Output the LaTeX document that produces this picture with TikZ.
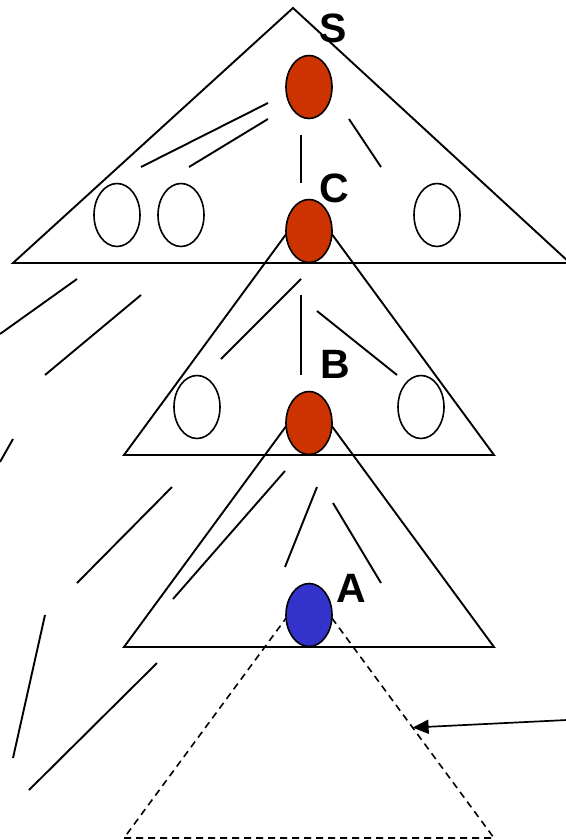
\documentclass[tikz,border=0pt]{standalone}
\usepackage{fontspec}
\setsansfont{Liberation Sans}
\usetikzlibrary{
  arrows.meta,
  calc,
  shapes.geometric
}
\definecolor{treeInk}{HTML}{000000}
\definecolor{treeRed}{HTML}{CC3300}
\definecolor{treeBlue}{HTML}{3333CC}
\tikzset{
  every node/.style={text=treeInk},
  frame/.style={
    draw=treeInk,
    line width=1.9pt,
    line join=miter
  },
  hidden/.style={
    frame,
    line width=1.6pt,
    dash pattern=on 7pt off 5pt
  },
  stroke/.style={
    draw=treeInk,
    line width=1.9pt
  },
  vertex/.style={
    ellipse,
    draw=treeInk,
    line width=1.6pt,
    fill=white,
    minimum width=46pt,
    minimum height=63pt,
    inner sep=0pt
  },
  tag/.style={
    font=\sffamily\bfseries\fontsize{41}{41}\selectfont,
    inner sep=0pt
  },
  pointer/.style={
    -{Triangle[length=16pt,width=14pt]},
    line width=1.7pt,
    draw=treeInk
  }
}

\begin{document}
\begin{tikzpicture}[x=1pt,y=-1pt]
  \useasboundingbox (0,0) rectangle (565,840);

  % triangle corners
  \coordinate (sTop) at (293,8);
  \coordinate (sLeft) at (13,263);
  \coordinate (sRight) at (570,263);
  \coordinate (cTop) at (309,203);
  \coordinate (cLeft) at (124,455);
  \coordinate (cRight) at (494,455);
  \coordinate (bTop) at (309,395);
  \coordinate (bLeft) at (124,647);
  \coordinate (bRight) at (494,647);
  \coordinate (aTop) at (309,587);
  \coordinate (aLeft) at (124,838);
  \coordinate (aRight) at (494,838);

  \draw[frame] (sTop) -- (sLeft) -- (sRight) -- cycle;
  \draw[frame] (cTop) -- (cLeft) -- (cRight) -- cycle;
  \draw[frame] (bTop) -- (bLeft) -- (bRight) -- cycle;
  \draw[hidden] (aTop) -- (aLeft) -- (aRight) -- cycle;

  % loose branches
  \foreach \ax/\ay/\bx/\by in {
    268/103/141/167, 268/119/189/167, 301/135/301/183, 349/119/381/167,
    77/279/0/334, 141/295/45/375, 13/439/0/462,
    301/279/221/359, 301/295/301/375, 317/311/397/375,
    172/487/77/583, 285/471/173/599, 317/487/285/567, 333/503/381/583,
    45/615/13/758, 157/663/29/790
  }{
    \draw[stroke] (\ax,\ay) -- (\bx,\by);
  }

  \node[vertex, fill=treeRed] (s) at (309,87) {};
  \node[vertex] (s1) at (117,215) {};
  \node[vertex] (s2) at (181,215) {};
  \node[vertex] (s3) at (437,215) {};
  \node[vertex, fill=treeRed] (c) at (309,231) {};
  \node[vertex] (c1) at (197,407) {};
  \node[vertex] (c2) at (421,407) {};
  \node[vertex, fill=treeRed] (b) at (309,423) {};
  \node[vertex, fill=treeBlue] (a) at (309,615) {};

  \node[tag] (sName) at (333,28) {S};
  \node[tag] (cName) at (334,188) {C};
  \node[tag] (bName) at (335,364) {B};
  \node[tag] (aName) at (351,588) {A};

  \coordinate (caption) at (567,720);
  \coordinate (hit) at ($(aTop)!0.56!(aRight)$);
  \draw[pointer] (caption) -- (hit);
\end{tikzpicture}
\end{document}
